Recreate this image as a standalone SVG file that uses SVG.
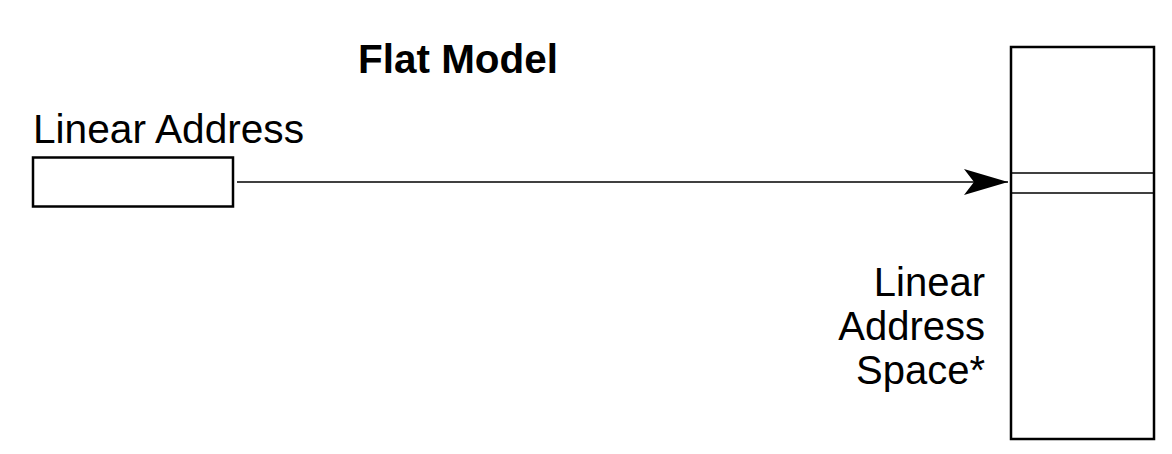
<svg xmlns="http://www.w3.org/2000/svg" width="1172" height="454" viewBox="0 0 1172 454">
<style>
.box{fill:#fff;stroke:#000;stroke-width:2.5}
.thin{stroke:#000;stroke-width:1.5;fill:none}
.t{font-family:"Liberation Sans",Arial,sans-serif;font-size:40px;fill:#000}
.b{font-weight:bold;font-size:40px}
</style>
<defs>
<marker id="ah" markerUnits="userSpaceOnUse" markerWidth="46" markerHeight="26" refX="44" refY="13" orient="auto">
<path d="M0,0 L44,13 L0,26 L10,13 Z" fill="#000"/>
</marker>
</defs>
<rect width="1172" height="454" fill="#fff"/>
<text class="t b" x="358" y="73" textLength="200" lengthAdjust="spacingAndGlyphs">Flat Model</text>
<g id="linear-address">
<text class="t" x="33" y="143" textLength="271" lengthAdjust="spacingAndGlyphs">Linear Address</text>
<rect class="box" x="33" y="157.5" width="200" height="49"/>
</g>
<g id="linear-address-space">
<rect class="box" x="1011" y="47" width="143" height="392"/>
<line class="thin" x1="1011" y1="173" x2="1154" y2="173"/>
<line class="thin" x1="1011" y1="193" x2="1154" y2="193"/>
<text class="t" text-anchor="end" x="985" y="296">Linear</text>
<text class="t" text-anchor="end" x="985" y="340">Address</text>
<text class="t" text-anchor="end" x="985" y="384">Space*</text>
</g>
<g id="connectors">
<line class="thin" x1="237" y1="182" x2="1008" y2="182" marker-end="url(#ah)"/>
</g>
</svg>
